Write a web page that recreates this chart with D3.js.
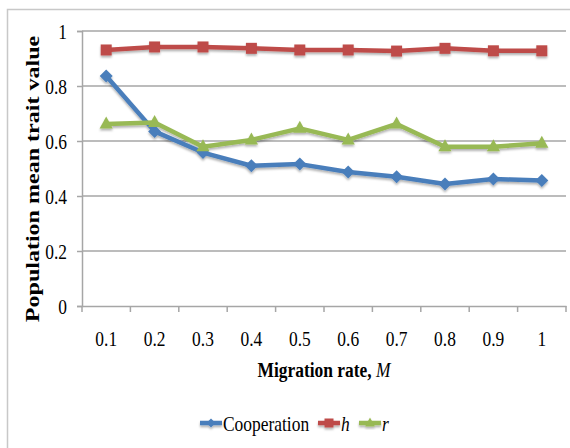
<!DOCTYPE html>
<html>
<head>
<meta charset="utf-8">
<script src="https://cdn.jsdelivr.net/npm/d3@7"></script>
<style>
  html, body { margin: 0; padding: 0; background: #fff; }
  svg { display: block; }
  text { font-family: "Liberation Serif", "Times New Roman", serif; fill: #000; }
</style>
</head>
<body>
<svg id="chart" width="570" height="448"></svg>
<script>
// Migration rate categories
const migrationRates = ["0.1", "0.2", "0.3", "0.4", "0.5", "0.6", "0.7", "0.8", "0.9", "1"];
// Population mean trait values per series
const cooperation = [0.836, 0.635, 0.558, 0.51, 0.516, 0.487, 0.47, 0.444, 0.462, 0.456];
const hValues     = [0.931, 0.942, 0.942, 0.937, 0.931, 0.931, 0.927, 0.937, 0.928, 0.928];
const rValues     = [0.662, 0.667, 0.579, 0.604, 0.646, 0.604, 0.662, 0.579, 0.579, 0.592];
const yTicks = [0, 0.2, 0.4, 0.6, 0.8, 1];
const yTickLabels = ["0", "0.2", "0.4", "0.6", "0.8", "1"];

const series = [
  { name: "Cooperation", italic: false, values: cooperation, color: "#4a7ebb", marker: "diamond" },
  { name: "h", italic: true, values: hValues, color: "#be4b48", marker: "square" },
  { name: "r", italic: true, values: rValues, color: "#98b954", marker: "triangle" }
];

const svg = d3.select("#chart");
const W = 570, H = 448;
const plot = { left: 82, right: 566, top: 31, bottom: 306 };
const SX = 0.83;   // narrow letterforms used throughout
const FS = 21;     // base font size

// frame around the whole chart
svg.append("rect")
  .attr("x", 7.5).attr("y", 9.5)
  .attr("width", W + 10).attr("height", H + 10)
  .attr("fill", "#fff").attr("stroke", "#c8c8c8").attr("stroke-width", 1.5);

// soft drop shadow used by the series lines and markers
const defs = svg.append("defs");
const f = defs.append("filter").attr("id", "shadow")
  .attr("x", "-20%").attr("y", "-20%").attr("width", "140%").attr("height", "160%");
f.append("feDropShadow").attr("dx", 0).attr("dy", 2).attr("stdDeviation", 1.2)
  .attr("flood-color", "#000").attr("flood-opacity", 0.3);

const x = d3.scaleBand().domain(migrationRates).range([plot.left, plot.right]);
const y = d3.scaleLinear().domain([0, 1]).range([plot.bottom, plot.top]);
const cx = d => x(d) + x.bandwidth() / 2;

// horizontal gridlines
svg.append("g")
  .selectAll("line")
  .data(yTicks.slice(1))
  .join("line")
  .attr("x1", plot.left).attr("x2", plot.right)
  .attr("y1", d => y(d)).attr("y2", d => y(d))
  .attr("stroke", "#a6a6a6").attr("stroke-width", 1.5);

// y axis
const yAxis = svg.append("g")
  .attr("transform", `translate(${plot.left},0)`)
  .call(d3.axisLeft(y).tickValues(yTicks).tickFormat((d, i) => yTickLabels[i]).tickSize(5).tickPadding(10));
yAxis.select(".domain").attr("stroke", "#a6a6a6").attr("stroke-width", 1.5);
yAxis.selectAll(".tick line").attr("stroke", "#a6a6a6").attr("stroke-width", 1.5);
yAxis.selectAll(".tick text")
  .attr("font-family", "Liberation Serif").attr("font-size", FS)
  .attr("x", -15 / SX).attr("dy", "0.34em")
  .attr("transform", `scale(${SX},1)`);

// x axis with tick marks on category boundaries
const xAxis = svg.append("g")
  .attr("transform", `translate(0,${plot.bottom})`)
  .call(d3.axisBottom(x).tickSize(0));
xAxis.select(".domain").attr("stroke", "#a6a6a6").attr("stroke-width", 1.5);
xAxis.selectAll(".tick text")
  .attr("font-family", "Liberation Serif").attr("font-size", FS)
  .attr("y", 40).attr("dy", 0).attr("x", 0)
  .attr("transform", `scale(${SX},1)`);
xAxis.append("g").selectAll("line")
  .data(migrationRates.map(d => x(d)).concat([plot.right]))
  .join("line")
  .attr("x1", d => d).attr("x2", d => d)
  .attr("y1", 0).attr("y2", 6)
  .attr("stroke", "#a6a6a6").attr("stroke-width", 1.5);

// axis titles
svg.append("text")
  .attr("transform", `translate(39,179) rotate(-90) scale(1.3,1)`)
  .attr("text-anchor", "middle")
  .attr("font-weight", "bold").attr("font-size", 18.5)
  .text("Population mean trait value");

const xt = svg.append("text")
  .attr("x", 324 / SX).attr("y", 377)
  .attr("text-anchor", "middle")
  .attr("font-weight", "bold").attr("font-size", FS)
  .attr("transform", `scale(${SX},1)`);
xt.append("tspan").text("Migration rate, ");
xt.append("tspan").attr("font-style", "italic").attr("font-weight", "normal").text("M");

// marker shapes
function markerPath(kind, s) {
  if (kind === "diamond") return `M0,${-s}L${s},0L0,${s}L${-s},0Z`;
  if (kind === "square") return `M${-s},${-s}H${s}V${s}H${-s}Z`;
  return `M0,${-s * 1.25}L${s * 1.1},${s * 0.75}L${-s * 1.1},${s * 0.75}Z`;
}
const markerSize = { diamond: 6.5, square: 5.5, triangle: 6 };
const legendMarkerSize = { diamond: 4.5, square: 4.5, triangle: 4.5 };

const line = d3.line().x((d, i) => cx(migrationRates[i])).y(d => y(d));

const seriesG = svg.append("g").attr("filter", "url(#shadow)");
series.forEach(s => {
  const g = seriesG.append("g");
  g.append("path")
    .attr("d", line(s.values))
    .attr("fill", "none").attr("stroke", s.color)
    .attr("stroke-width", 4.5).attr("stroke-linejoin", "round");
  g.selectAll("path.m")
    .data(s.values)
    .join("path")
    .attr("class", "m")
    .attr("transform", (d, i) => `translate(${cx(migrationRates[i])},${y(d)})`)
    .attr("d", markerPath(s.marker, markerSize[s.marker]))
    .attr("fill", s.color);
});

// legend
const legendItems = [
  { s: series[0], x: 200 },
  { s: series[1], x: 318 },
  { s: series[2], x: 359 }
];
const ly = 423;
legendItems.forEach(({ s, x: lx }) => {
  const g = svg.append("g").attr("filter", "url(#shadow)");
  g.append("line")
    .attr("x1", lx).attr("x2", lx + 22)
    .attr("y1", ly).attr("y2", ly)
    .attr("stroke", s.color).attr("stroke-width", 4.5);
  g.append("path")
    .attr("transform", `translate(${lx + 11},${ly})`)
    .attr("d", markerPath(s.marker, legendMarkerSize[s.marker]))
    .attr("fill", s.color);
  svg.append("text")
    .attr("x", (lx + 23) / SX).attr("y", ly + 8)
    .attr("transform", `scale(${SX},1)`)
    .attr("font-size", FS)
    .attr("font-style", s.italic ? "italic" : "normal")
    .text(s.name);
});
</script>
</body>
</html>
